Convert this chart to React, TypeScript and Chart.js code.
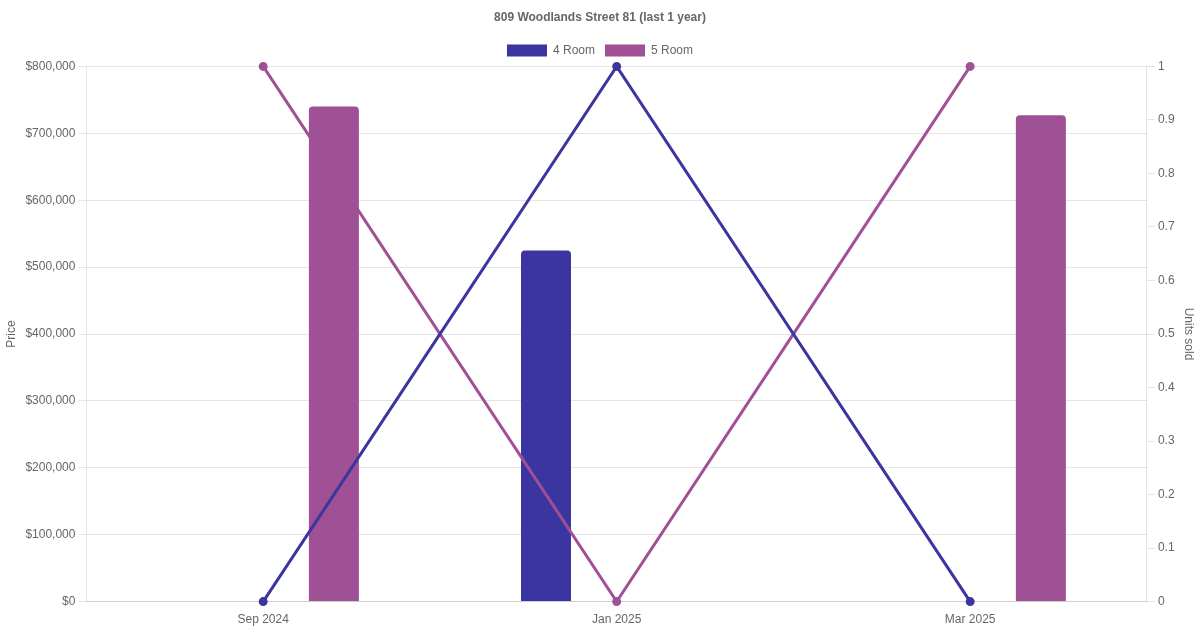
import React, { useEffect, useRef } from "react";
import { Chart, registerables } from "chart.js";

Chart.register(...registerables);

const categories = ["Sep 2024", "Jan 2025", "Mar 2025"];
const price4Room: (number | null)[] = [null, 525000, null];
const price5Room: (number | null)[] = [740000, null, 727000];
const units4Room = [0, 1, 0];
const units5Room = [1, 0, 1];

const COLOR_4 = "#3a35a0";
const COLOR_5 = "#a05094";

export default function App() {
  const ref = useRef<HTMLCanvasElement | null>(null);

  useEffect(() => {
    document.body.style.margin = "0";
    if (!ref.current) return;
    Chart.defaults.color = "#666";
    const chart = new Chart(ref.current, {
      type: "bar",
      data: {
        labels: categories,
        datasets: [
          {
            type: "bar",
            label: "4 Room",
            data: price4Room,
            backgroundColor: COLOR_4,
            borderColor: COLOR_4,
            maxBarThickness: 50,
            borderRadius: 4,
            yAxisID: "y",
            order: 2,
          },
          {
            type: "bar",
            label: "5 Room",
            data: price5Room,
            backgroundColor: COLOR_5,
            borderColor: COLOR_5,
            maxBarThickness: 50,
            borderRadius: 4,
            yAxisID: "y",
            order: 2,
          },
          {
            type: "line",
            label: "4 Room units",
            data: units4Room,
            borderColor: COLOR_4,
            backgroundColor: COLOR_4,
            borderWidth: 3,
            pointRadius: 3,
            clip: false,
            yAxisID: "y1",
            order: 1,
          } as any,
          {
            type: "line",
            label: "5 Room units",
            data: units5Room,
            borderColor: COLOR_5,
            backgroundColor: COLOR_5,
            borderWidth: 3,
            pointRadius: 3,
            clip: false,
            yAxisID: "y1",
            order: 1,
          } as any,
        ],
      },
      options: {
        animation: false,
        responsive: true,
        maintainAspectRatio: false,
        plugins: {
          title: {
            display: true,
            text: "809 Woodlands Street 81 (last 1 year)",
            font: { size: 12, weight: "bold" },
            color: "#666",
          },
          legend: {
            labels: {
              filter: (item: any) => item.datasetIndex < 2,
              font: { size: 12 },
            },
          },
          tooltip: { enabled: false },
        },
        scales: {
          x: {
            grid: { display: false },
            ticks: { font: { size: 12 } },
          },
          y: {
            position: "left",
            min: 0,
            max: 800000,
            ticks: {
              stepSize: 100000,
              callback: (v: any) => "$" + Number(v).toLocaleString("en-US"),
              font: { size: 12 },
            },
            title: { display: true, text: "Price", font: { size: 12 } },
          },
          y1: {
            position: "right",
            min: 0,
            max: 1,
            ticks: {
              stepSize: 0.1,
              callback: (v: any) => String(Math.round(Number(v) * 10) / 10),
              font: { size: 12 },
            },
            grid: { drawOnChartArea: false },
            title: { display: true, text: "Units sold", font: { size: 12 } },
          },
        },
      },
    });
    return () => chart.destroy();
  }, []);

  return (
    <div style={{ position: "relative", width: 1200, height: 630 }}>
      <canvas ref={ref} />
    </div>
  );
}
